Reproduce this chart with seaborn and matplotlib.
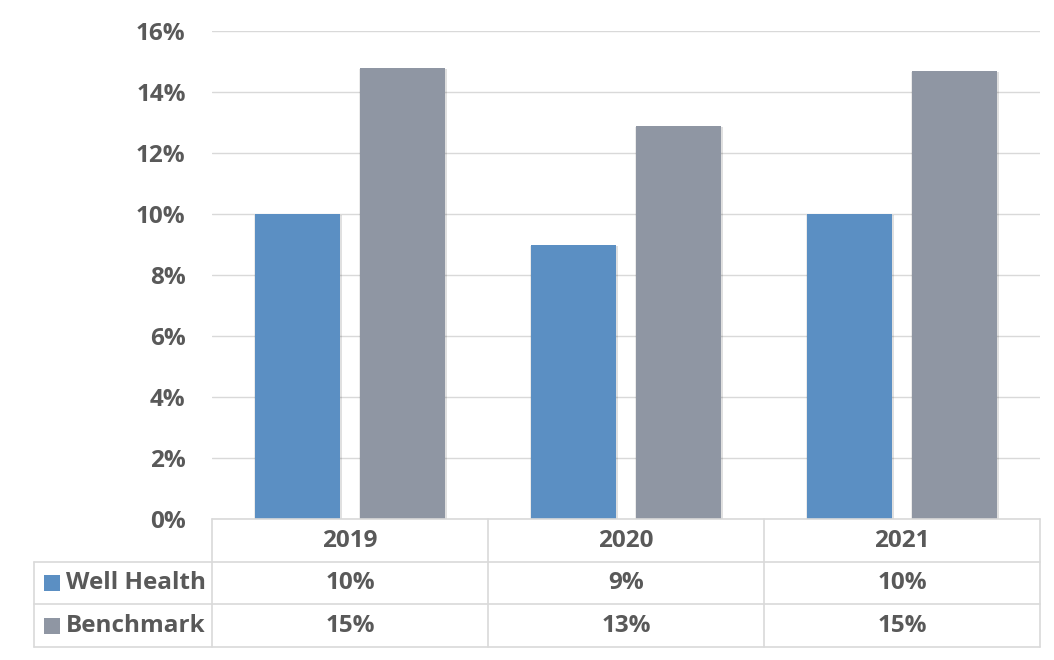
import numpy as np
import pandas as pd
import matplotlib
matplotlib.use("Agg")
import matplotlib.pyplot as plt
import matplotlib.patheffects as pe
from matplotlib.patches import Rectangle
import seaborn as sns

years = ["2019", "2020", "2021"]
series = ["Well Health", "Benchmark"]
well_health = [10.0, 9.0, 10.0]
benchmark = [14.8, 12.9, 14.7]
colors = ["#5B8FC3", "#8F96A3"]
yticks = [0, 2, 4, 6, 8, 10, 12, 14, 16]

sns.set_style("white")
plt.rcParams["font.family"] = ["Open Sans", "DejaVu Sans"]

df = pd.DataFrame({
    "Year": years * 2,
    "Series": [series[0]] * 3 + [series[1]] * 3,
    "Value": well_health + benchmark,
})

W, H = 1054, 660
fig = plt.figure(figsize=(W / 100, H / 100), dpi=100)
ax = fig.add_axes([212 / W, (H - 519) / H, (1040 - 212) / W, (519 - 31) / H])

sns.barplot(data=df, x="Year", y="Value", hue="Series", palette=colors,
            saturation=1, width=0.76, gap=0.19, ax=ax, legend=False, zorder=3,
            linewidth=0, edgecolor="none")
for p in ax.patches:
    p.set_path_effects([
        pe.SimplePatchShadow(offset=(1.5, -1), shadow_rgbFace="#000000", alpha=0.12),
        pe.SimplePatchShadow(offset=(-1.0, -1), shadow_rgbFace="#000000", alpha=0.08),
        pe.Normal()])

fs = 17.5
ax.set_ylim(0, 16)
ax.set_xlim(-0.5, 2.5)
ax.set_yticks(yticks)
ax.set_yticklabels([f"{v}%" for v in yticks], fontsize=fs, fontweight="bold", color="#595959")
ax.tick_params(axis="y", length=0, pad=19)
ax.set_xticks([])
ax.set_xlabel("")
ax.set_ylabel("")
for s in ax.spines.values():
    s.set_visible(False)
ax.grid(axis="y", color="#d9d9d9", linewidth=1, zorder=0)
ax.set_axisbelow(True)

# data table below the chart
left_w = (212 - 34) / 276
tax = fig.add_axes([34 / W, (H - 647) / H, (1040 - 34) / W, (647 - 519) / H])
tax.set_xlim(-0.5 - left_w, 2.5)
tax.set_ylim(3, 0)
tax.axis("off")
lc = "#d9d9d9"
lw = 1.2
tax.plot([-0.5, 2.5], [0, 0], color=lc, lw=lw, clip_on=False)
for yy in [1, 2, 3]:
    tax.plot([-0.5 - left_w, 2.5], [yy, yy], color=lc, lw=lw, clip_on=False)
for xx in [-0.5, 0.5, 1.5, 2.5]:
    tax.plot([xx, xx], [0, 3], color=lc, lw=lw, clip_on=False)
tax.plot([-0.5 - left_w, -0.5 - left_w], [1, 3], color=lc, lw=lw, clip_on=False)

tc = "#595959"
for i, y in enumerate(years):
    tax.text(i, 0.52, y, ha="center", va="center", fontsize=fs, fontweight="bold", color=tc)
rows = [well_health, benchmark]
for r, (name, vals, col) in enumerate(zip(series, rows, colors)):
    yc = 1.5 + r
    tax.add_patch(Rectangle((-0.5 - left_w + 0.036, yc - 0.19), 0.058, 0.38,
                            facecolor=col, edgecolor="none", clip_on=False))
    tax.text(-0.5 - left_w + 0.115, yc, name, ha="left", va="center",
             fontsize=fs, fontweight="bold", color=tc)
    for i, v in enumerate(vals):
        tax.text(i, yc, f"{round(v):.0f}%", ha="center", va="center",
                 fontsize=fs, fontweight="bold", color=tc)

fig.savefig("out.png", dpi=100, facecolor="white")
